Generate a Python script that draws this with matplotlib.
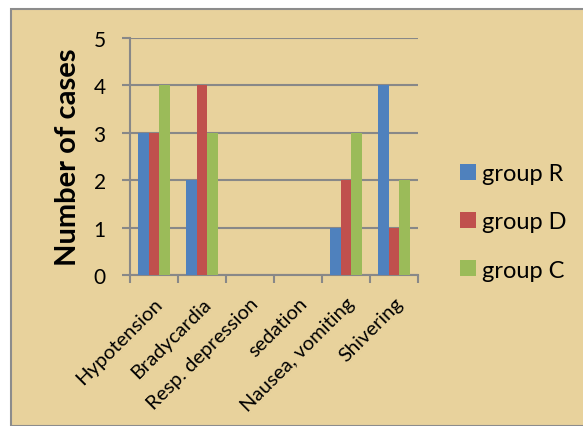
import matplotlib
matplotlib.use("Agg")
import matplotlib.pyplot as plt
import numpy as np
from matplotlib.patches import Rectangle, Patch

categories = ["Hypotension", "Bradycardia", "Resp. depression", "sedation",
              "Nausea, vomiting", "Shivering"]
group_R = [3, 2, 0, 0, 1, 4]
group_D = [3, 4, 0, 0, 2, 1]
group_C = [4, 3, 0, 0, 3, 2]
series_names = ["group R", "group D", "group C"]
colors = ["#4F81BD", "#C0504D", "#9BBB59"]
yticks = [0, 1, 2, 3, 4, 5]

plt.rcParams['font.family'] = ['Lato', 'DejaVu Sans']

W, H = 583, 427
fig = plt.figure(figsize=(W / 100, H / 100), dpi=100, facecolor="white")

# parchment panel
bg = Rectangle((11 / W, 0), 1.0, 1 - 10 / H, transform=fig.transFigure,
               facecolor="#E8D29C", edgecolor="#8C8C8C", linewidth=1.5, zorder=-10)
fig.patches.append(bg)

ax = fig.add_axes([130 / W, 1 - 276 / H, 288 / W, 237 / H])
ax.set_zorder(1)
ax.set_facecolor("none")

x = np.arange(len(categories))
bw = 1 / 4.5
for i, (vals, name, c) in enumerate(zip([group_R, group_D, group_C], series_names, colors)):
    ax.bar(x - bw + i * bw, vals, width=bw, color=c, label=name, zorder=3)

ax.set_xlim(-0.5, len(categories) - 0.5)
ax.set_ylim(0, 5)
ax.set_yticks(yticks)
ax.set_yticklabels([str(v) for v in yticks], fontsize=15)
ax.yaxis.grid(True, color="#888888", linewidth=1.5, zorder=1)
ax.set_axisbelow(True)

ax.set_xticks(x)
ax.set_xticklabels(categories, rotation=45, ha="right", rotation_mode="anchor",
                   fontsize=14.5)
ax.tick_params(axis="x", which="major", length=0, pad=14)
ax.set_xticks(np.arange(-0.5, len(categories)), minor=True)
ax.tick_params(axis="x", which="minor", length=5.5, width=1.5, color="#888888", direction="out")
ax.tick_params(axis="y", length=5.5, width=1.5, color="#888888", pad=12)

for s in ["top", "right"]:
    ax.spines[s].set_visible(False)
for s in ["left", "bottom"]:
    ax.spines[s].set_color("#888888")
    ax.spines[s].set_linewidth(1.5)

ax.set_ylabel("Number of cases", fontsize=21, fontweight="bold")
ax.yaxis.set_label_coords((81 - 130) / 288, 0.5)

handles = [Patch(facecolor=c, edgecolor="none") for c in colors]
fig.legend(handles, series_names, loc="center left",
           bbox_to_anchor=(439 / W, 1 - 223 / H), frameon=False, fontsize=17,
           handlelength=0.68, handleheight=0.68, handletextpad=0.25,
           labelspacing=1.15)

fig.savefig("out.png", dpi=100, facecolor="white")
